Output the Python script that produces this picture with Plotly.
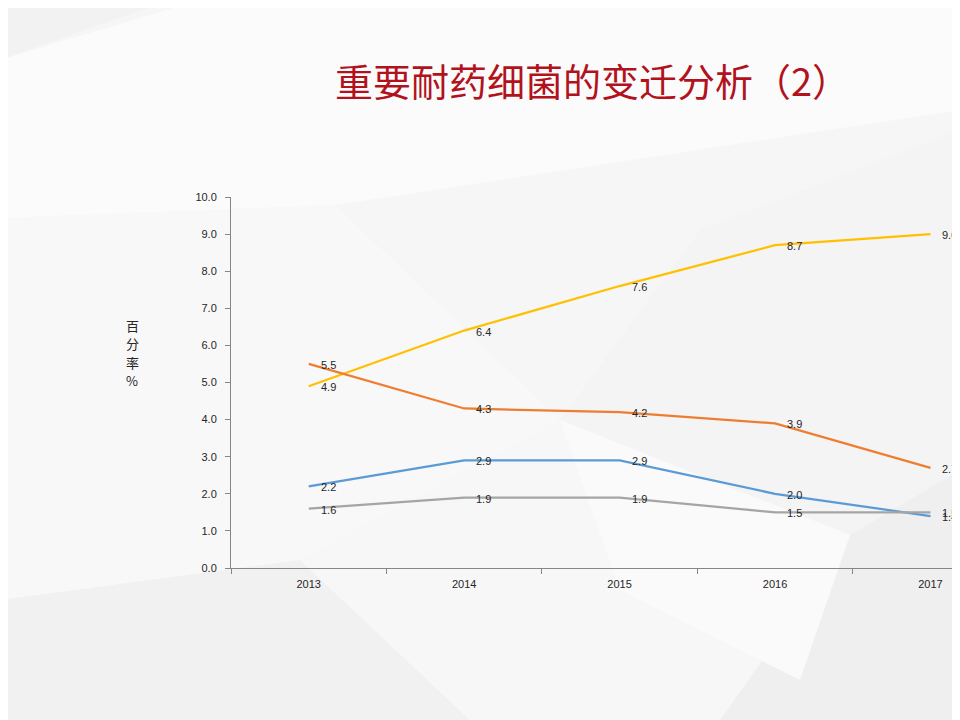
import plotly.graph_objects as go

# data
years = ["2013", "2014", "2015", "2016", "2017"]
yellow_vals = [4.9, 6.4, 7.6, 8.7, 9.0]
orange_vals = [5.5, 4.3, 4.2, 3.9, 2.7]
blue_vals = [2.2, 2.9, 2.9, 2.0, 1.4]
gray_vals = [1.6, 1.9, 1.9, 1.5, 1.5]
y_ticks = [0, 1, 2, 3, 4, 5, 6, 7, 8, 9, 10]
y_title = ["百", "分", "率", "%"]

W, H = 960, 720
OFF = 8   # the page puts the figure 8px in from the top-left corner
# plot area in screen pixels: left 231, top 197, bottom 568, right edge of window 960
L, T = 231 - OFF, 197 - OFF
B = H - (568 - OFF)
R = W - (960 - OFF)


def px(x, y):
    # screen pixel -> paper coords (paper is the plot area)
    x, y = x - OFF, y - OFF
    return (x - L) / (W - L - R), (H - B - y) / (H - T - B)


def poly(points, color):
    pts = [px(x, y) for x, y in points]
    path = "M " + " L ".join(f"{a:.4f},{b:.4f}" for a, b in pts) + " Z"
    return dict(type="path", path=path, xref="paper", yref="paper",
                fillcolor=color, line=dict(width=0), layer="below")


#background polygons, just decoration
shapes = [
    poly([(0, 0), (170, 0), (0, 60)], "#F2F2F3"),
    poly([(0, 60), (200, 0), (960, 0), (960, 110), (335, 205), (0, 218)], "#FBFBFB"),
    poly([(0, 218), (335, 205), (560, 420), (300, 560), (0, 600)], "#F8F8F9"),
    poly([(0, 600), (300, 560), (470, 720), (0, 720)], "#F1F1F2"),
    poly([(560, 420), (700, 230), (960, 130), (960, 470), (850, 535)], "#F4F4F5"),
    poly([(850, 535), (960, 470), (960, 720), (720, 720)], "#EFEFF0"),
    poly([(300, 560), (560, 420), (850, 535), (720, 720), (470, 720)], "#F7F7F8"),
    poly([(560, 420), (620, 590), (800, 680), (850, 535)], "#FAFAFA"),
]

fig = go.Figure()

series = [
    (yellow_vals, "#FFC000"),
    (orange_vals, "#ED7D31"),
    (blue_vals, "#5B9BD5"),
    (gray_vals, "#A5A5A5"),
]
for vals, col in series:
    fig.add_trace(go.Scatter(
        x=years, y=vals, mode="lines",
        line=dict(color=col, width=2.25),
        hoverinfo="skip",
    ))
    # data labels sit a little right of each point (category index for x)
    for i, v in enumerate(vals):
        fig.add_annotation(
            x=i, y=v, xref="x", yref="y", text=f"{v:.1f}",
            showarrow=False, xanchor="left", yanchor="middle",
            xshift=10, yshift=-1,
            font=dict(size=11, color="#262626", family="Liberation Sans"),
        )

fig.update_xaxes(
    type="category", range=[-0.5, 4.19],
    tickson="boundaries", ticks="outside", ticklen=5, tickcolor="#868686",
    showline=True, linecolor="#868686", linewidth=1,
    showgrid=False, zeroline=False, ticklabelstandoff=6,
    tickfont=dict(size=11, color="#262626", family="Liberation Sans"),
)
fig.update_yaxes(
    range=[0, 10], tickvals=y_ticks, ticktext=[f"{v:.1f}" for v in y_ticks],
    ticks="outside", ticklen=5, tickcolor="#868686",
    showline=True, linecolor="#868686", linewidth=1,
    showgrid=False, zeroline=False, ticklabelstandoff=6,
    tickfont=dict(size=11, color="#262626", family="Liberation Sans"),
)

tx, ty = px(592, 80)
fig.add_annotation(
    text="重要耐药细菌的变迁分析（2）", xref="paper", yref="paper",
    x=tx, y=ty, xanchor="center", yanchor="middle", showarrow=False,
    font=dict(size=38, color="#B2121C", family="Noto Sans CJK SC"),
)
# vertical axis title, one character per line
for k, ch in enumerate(y_title):
    ax, ay = px(132, 325 + 18.5 * k)
    fig.add_annotation(
        text=ch, xref="paper", yref="paper",
        x=ax, y=ay, xanchor="center", yanchor="middle", showarrow=False,
        font=dict(size=13, color="#262626", family="Noto Sans CJK SC"),
    )

fig.update_layout(
    width=W, height=H,
    margin=dict(l=L, r=R, t=T, b=B),
    paper_bgcolor="#F6F6F7", plot_bgcolor="rgba(0,0,0,0)",
    showlegend=False, shapes=shapes,
)

fig.write_html("out.html")
